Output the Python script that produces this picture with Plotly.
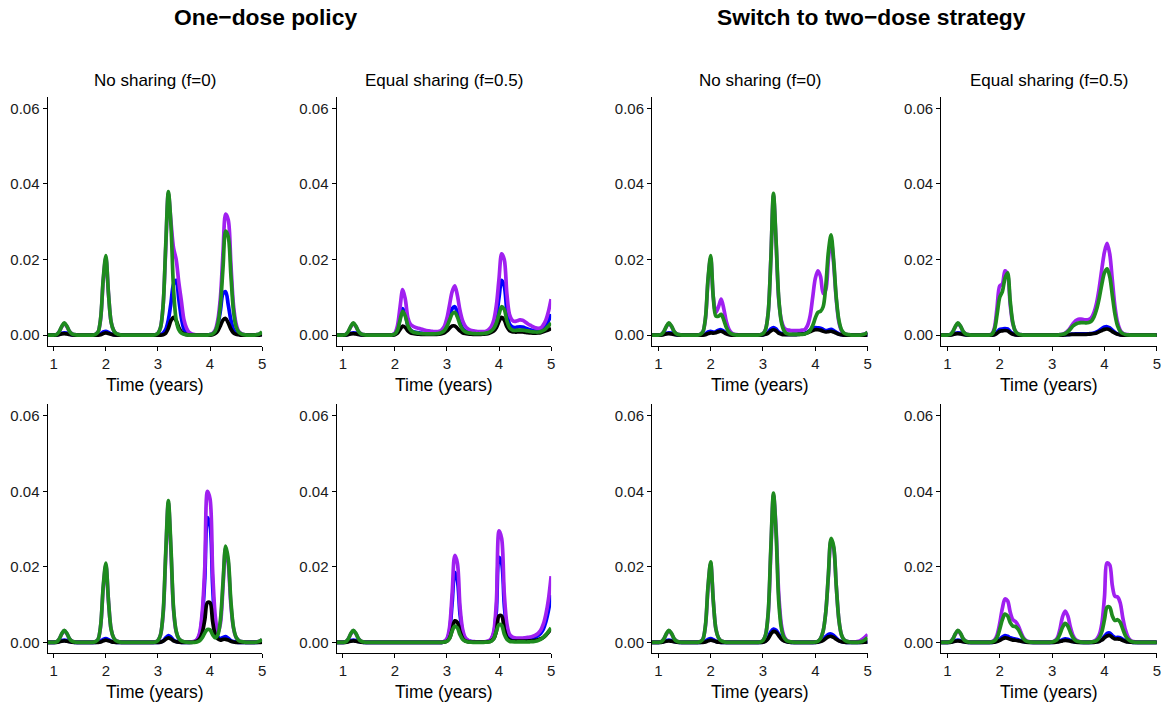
import numpy as np
import plotly.graph_objects as go

# Time grid shared by every series (years)
TIME = np.round(np.arange(0.85, 5.0001, 0.05), 2)

# All series values below are given in thousandths (x 1e-3).
# Rows of 10 values: 0.85-1.30 | 1.35-1.80 | 1.85-2.30 | 2.35-2.80 | 2.85-3.30 |
#                    3.35-3.80 | 3.85-4.30 | 4.35-4.80 | 4.85-5.00

# ---------- One-dose policy, no sharing (f=0), top row ----------
p1_purple = [0, 0, 0, 0, 0.1, 0.8, 2.1, 3.1, 2.3, 1.0,
             0.3, 0.1, 0, 0, 0, 0, 0, 0, 0, 0.2,
             0.8, 4.3, 14.5, 20.5, 11, 3.5, 1.2, 0.4, 0.15, 0,
             0, 0, 0, 0, 0, 0, 0, 0, 0, 0,
             0, 0, 0.1, 0.5, 2, 8, 23, 37.5, 30, 23,
             20, 14, 9, 4, 1.8, 0.7, 0.3, 0.1, 0, 0,
             0, 0, 0, 0.1, 0.4, 1.3, 4, 10, 22, 32,
             30.5, 19, 8, 3, 1, 0.4, 0.15, 0, 0, 0,
             0, 0.1, 0.2, 0.5]
p1_blue = [0, 0, 0, 0, 0.05, 0.2, 0.45, 0.6, 0.5, 0.25,
           0.1, 0, 0, 0, 0, 0, 0, 0, 0, 0,
           0.1, 0.3, 0.8, 1.0, 0.7, 0.3, 0.1, 0, 0, 0,
           0, 0, 0, 0, 0, 0, 0, 0, 0, 0,
           0, 0, 0, 0, 0.1, 0.5, 1.5, 4, 8.5, 13.5,
           14.5, 9.5, 4.5, 1.5, 0.5, 0.2, 0, 0, 0, 0,
           0, 0, 0, 0.1, 0.3, 1, 2.8, 6.5, 11, 11.5,
           8, 4, 1.5, 0.5, 0.2, 0.1, 0, 0, 0, 0,
           0, 0, 0.1, 0.2]
p1_black = [0, 0, 0, 0, 0, 0.1, 0.3, 0.4, 0.3, 0.15,
            0.05, 0, 0, 0, 0, 0, 0, 0, 0, 0,
            0, 0.1, 0.4, 0.6, 0.4, 0.2, 0.05, 0, 0, 0,
            0, 0, 0, 0, 0, 0, 0, 0, 0, 0,
            0, 0, 0, 0, 0, 0.1, 0.5, 1.8, 3.8, 4.7,
            3.8, 2, 0.8, 0.3, 0.1, 0, 0, 0, 0, 0,
            0, 0, 0, 0, 0.1, 0.4, 1.1, 2.5, 4, 4.4,
            3.2, 1.6, 0.6, 0.2, 0.1, 0, 0, 0, 0, 0,
            0, 0, 0, 0.1]
p1_green = [0, 0, 0, 0, 0.1, 0.8, 2.2, 3.2, 2.4, 1.0,
            0.3, 0.1, 0, 0, 0, 0, 0, 0, 0, 0.2,
            0.8, 4.5, 15, 21, 11, 3.5, 1.2, 0.4, 0.15, 0,
            0, 0, 0, 0, 0, 0, 0, 0, 0, 0,
            0, 0, 0.1, 0.5, 2, 8, 24, 38, 29, 12,
            4, 1.4, 0.5, 0.2, 0.1, 0, 0, 0, 0, 0,
            0, 0, 0, 0.1, 0.3, 1, 3, 8, 18, 27.5,
            26, 16, 6.5, 2.2, 0.8, 0.3, 0.1, 0, 0, 0,
            0, 0.1, 0.3, 0.8]

# ---------- One-dose policy, equal sharing (f=0.5), top row ----------
p2_purple = [0, 0, 0, 0, 0.1, 0.8, 2.1, 3.1, 2.3, 1.0,
             0.3, 0.1, 0, 0, 0, 0, 0, 0, 0, 0,
             0, 0, 0.1, 0.5, 2.5, 7.5, 12, 9.5, 4.5, 2.8,
             2.3, 2, 1.8, 1.6, 1.4, 1.2, 1.1, 1, 0.9, 0.9,
             1, 1.4, 2.3, 4.5, 8, 11.5, 13, 10.5, 6.5, 3.8,
             2.4, 1.7, 1.3, 1.1, 1, 0.9, 0.9, 0.9, 1, 1.4,
             2.2, 4, 8, 15, 21.5, 20, 11, 5.5, 4, 3.6,
             3.8, 4, 3.9, 3.5, 3, 2.6, 2.2, 1.9, 1.8, 1.9,
             2.7, 4, 6.3, 9.5]
p2_blue = [0, 0, 0, 0, 0.05, 0.2, 0.45, 0.6, 0.5, 0.25,
           0.1, 0, 0, 0, 0, 0, 0, 0, 0, 0,
           0, 0, 0.05, 0.3, 1.5, 4.5, 7, 5.5, 2.5, 1.3,
           0.9, 0.7, 0.6, 0.5, 0.45, 0.4, 0.35, 0.35, 0.35, 0.4,
           0.5, 0.8, 1.4, 2.8, 5, 7, 7.5, 6, 3.5, 1.8,
           1.1, 0.8, 0.6, 0.5, 0.45, 0.45, 0.45, 0.5, 0.6, 0.9,
           1.5, 2.5, 5, 10, 14.5, 13, 6.5, 3, 2.2, 2,
           2.1, 2.2, 2.1, 1.9, 1.6, 1.4, 1.2, 1.1, 1.1, 1.3,
           1.8, 2.6, 3.8, 5.5]
p2_black = [0, 0, 0, 0, 0, 0.1, 0.3, 0.4, 0.3, 0.15,
            0.05, 0, 0, 0, 0, 0, 0, 0, 0, 0,
            0, 0, 0, 0.1, 0.5, 1.5, 2.4, 2, 1.1, 0.6,
            0.4, 0.3, 0.25, 0.2, 0.2, 0.2, 0.2, 0.2, 0.2, 0.2,
            0.25, 0.35, 0.6, 1.1, 1.8, 2.4, 2.4, 1.8, 1.1, 0.6,
            0.4, 0.3, 0.25, 0.2, 0.2, 0.2, 0.2, 0.25, 0.3, 0.4,
            0.7, 1.1, 2, 3.6, 4.7, 4, 2.2, 1.2, 0.9, 0.8,
            0.8, 0.8, 0.8, 0.7, 0.6, 0.55, 0.5, 0.5, 0.55, 0.65,
            0.85, 1.1, 1.4, 1.8]
p2_green = [0, 0, 0, 0, 0.1, 0.8, 2.2, 3.2, 2.4, 1.0,
            0.3, 0.1, 0, 0, 0, 0, 0, 0, 0, 0,
            0, 0, 0.05, 0.3, 1.3, 4, 6.3, 5, 2.5, 1.3,
            0.8, 0.6, 0.5, 0.4, 0.35, 0.3, 0.3, 0.3, 0.3, 0.35,
            0.45, 0.7, 1.2, 2.3, 4, 5.6, 6, 4.8, 2.8, 1.5,
            0.9, 0.6, 0.5, 0.4, 0.35, 0.35, 0.35, 0.4, 0.5, 0.7,
            1.1, 1.8, 3.2, 5.5, 7.5, 6.8, 3.8, 2, 1.4, 1.2,
            1.3, 1.3, 1.3, 1.2, 1.1, 0.95, 0.85, 0.8, 0.8, 0.9,
            1.2, 1.7, 2.4, 3.2]

# ---------- Switch to two-dose, no sharing (f=0), top row ----------
p3_purple = [0, 0, 0, 0, 0.1, 0.8, 2.1, 3.1, 2.3, 1.0,
             0.3, 0.1, 0, 0, 0, 0, 0, 0, 0, 0.2,
             0.8, 4.3, 14.5, 20.5, 10, 6, 7.5, 9.5, 7, 3.5,
             1.5, 0.6, 0.2, 0.1, 0, 0, 0, 0, 0, 0,
             0, 0, 0.1, 0.4, 1.5, 6, 20, 37, 24.5, 9.5,
             4, 2, 1.4, 1.3, 1.2, 1.2, 1.2, 1.2, 1.3, 1.5,
             2.5, 5, 10, 15, 17, 15.5, 11, 12, 20, 25.5,
             19, 9.5, 3.5, 1.2, 0.4, 0.15, 0, 0, 0, 0,
             0, 0.1, 0.3, 0.7]
p3_blue = [0, 0, 0, 0, 0.05, 0.2, 0.45, 0.6, 0.5, 0.25,
           0.1, 0, 0, 0, 0, 0, 0, 0, 0, 0,
           0.1, 0.3, 0.8, 1.0, 0.8, 0.9, 1.3, 1.4, 1.0, 0.5,
           0.2, 0.1, 0, 0, 0, 0, 0, 0, 0, 0,
           0, 0, 0, 0.1, 0.3, 0.8, 1.6, 2, 1.6, 0.8,
           0.4, 0.2, 0.15, 0.15, 0.15, 0.2, 0.2, 0.25, 0.3, 0.5,
           0.8, 1.3, 1.8, 2, 1.9, 1.8, 1.5, 1.2, 1.3, 1.5,
           1.2, 0.7, 0.3, 0.1, 0, 0, 0, 0, 0, 0,
           0, 0, 0.05, 0.1]
p3_black = [0, 0, 0, 0, 0, 0.1, 0.3, 0.4, 0.3, 0.15,
            0.05, 0, 0, 0, 0, 0, 0, 0, 0, 0,
            0, 0.1, 0.4, 0.6, 0.5, 0.6, 0.9, 1.0, 0.7, 0.3,
            0.1, 0, 0, 0, 0, 0, 0, 0, 0, 0,
            0, 0, 0, 0.05, 0.2, 0.5, 1.1, 1.4, 1.1, 0.5,
            0.25, 0.1, 0.1, 0.1, 0.1, 0.1, 0.15, 0.2, 0.25, 0.35,
            0.6, 0.9, 1.2, 1.4, 1.4, 1.3, 1.0, 0.8, 0.9, 1.0,
            0.8, 0.5, 0.2, 0.1, 0, 0, 0, 0, 0, 0,
            0, 0, 0, 0.05]
p3_green = [0, 0, 0, 0, 0.1, 0.8, 2.2, 3.2, 2.4, 1.0,
            0.3, 0.1, 0, 0, 0, 0, 0, 0, 0, 0.2,
            0.8, 4.5, 15, 21, 10, 5, 5, 5.5, 4, 2,
            0.8, 0.3, 0.1, 0, 0, 0, 0, 0, 0, 0,
            0, 0, 0.1, 0.4, 1.5, 6, 20, 37.5, 25, 10,
            3.5, 1.2, 0.4, 0.2, 0.2, 0.2, 0.2, 0.2, 0.2, 0.3,
            0.6, 1.2, 2.5, 4.5, 6, 6.3, 7.5, 13, 22, 26.5,
            20, 10, 4, 1.4, 0.5, 0.2, 0.1, 0, 0, 0,
            0, 0.1, 0.3, 0.7]

# ---------- Switch to two-dose, equal sharing (f=0.5), top row ----------
p4_purple = [0, 0, 0, 0, 0.1, 0.8, 2.1, 3.1, 2.3, 1.0,
             0.3, 0.1, 0, 0, 0, 0, 0, 0, 0, 0,
             0.3, 2, 7.5, 13, 13.5, 17, 16, 8, 3, 1,
             0.3, 0.1, 0, 0, 0, 0, 0, 0, 0, 0,
             0, 0, 0, 0, 0, 0, 0.1, 0.2, 0.5, 1.1,
             2, 3, 3.8, 4.2, 4.2, 4.1, 4, 4.1, 4.6, 6,
             8.5, 12.5, 17.5, 22, 24.3, 21.5, 14.5, 7.5, 3.3, 1.3,
             0.5, 0.2, 0.1, 0, 0, 0, 0, 0, 0, 0,
             0, 0, 0, 0]
p4_blue = [0, 0, 0, 0, 0.05, 0.2, 0.45, 0.6, 0.5, 0.25,
           0.1, 0, 0, 0, 0, 0, 0, 0, 0, 0,
           0, 0.2, 0.8, 1.5, 1.6, 1.7, 1.6, 0.9, 0.35, 0.1,
           0.05, 0, 0, 0, 0, 0, 0, 0, 0, 0,
           0, 0, 0, 0, 0, 0, 0, 0.05, 0.1, 0.15,
           0.2, 0.25, 0.3, 0.3, 0.3, 0.3, 0.3, 0.35, 0.4, 0.55,
           0.8, 1.2, 1.7, 2.1, 2.2, 1.9, 1.3, 0.7, 0.3, 0.1,
           0.05, 0, 0, 0, 0, 0, 0, 0, 0, 0,
           0, 0, 0, 0]
p4_black = [0, 0, 0, 0, 0, 0.1, 0.3, 0.4, 0.3, 0.15,
            0.05, 0, 0, 0, 0, 0, 0, 0, 0, 0,
            0, 0.1, 0.5, 1.0, 1.1, 1.2, 1.1, 0.6, 0.2, 0.05,
            0, 0, 0, 0, 0, 0, 0, 0, 0, 0,
            0, 0, 0, 0, 0, 0, 0, 0, 0.05, 0.1,
            0.15, 0.2, 0.2, 0.2, 0.2, 0.2, 0.2, 0.25, 0.3, 0.4,
            0.55, 0.9, 1.2, 1.5, 1.6, 1.4, 0.9, 0.5, 0.2, 0.05,
            0, 0, 0, 0, 0, 0, 0, 0, 0, 0,
            0, 0, 0, 0]
p4_green = [0, 0, 0, 0, 0.1, 0.8, 2.2, 3.2, 2.4, 1.0,
            0.3, 0.1, 0, 0, 0, 0, 0, 0, 0, 0,
            0.2, 1.5, 5.5, 10, 11.5, 15, 16.5, 9, 3.3, 1,
            0.3, 0.1, 0, 0, 0, 0, 0, 0, 0, 0,
            0, 0, 0, 0, 0, 0, 0.1, 0.2, 0.4, 0.9,
            1.6, 2.4, 2.9, 3.2, 3.3, 3.3, 3.2, 3.3, 3.7, 4.8,
            6.8, 9.8, 13.5, 16.5, 17.5, 15.5, 10.5, 5.5, 2.4, 1,
            0.4, 0.15, 0.05, 0, 0, 0, 0, 0, 0, 0,
            0, 0, 0, 0]

# ---------- One-dose policy, no sharing (f=0), bottom row ----------
p5_purple = [0, 0, 0, 0, 0.1, 0.8, 2.1, 3.1, 2.3, 1.0,
             0.3, 0.1, 0, 0, 0, 0, 0, 0, 0, 0.2,
             0.8, 4.3, 14.5, 20.5, 11, 3.5, 1.2, 0.4, 0.15, 0,
             0, 0, 0, 0, 0, 0, 0, 0, 0, 0,
             0, 0, 0.1, 0.5, 2, 7.5, 23, 37, 24, 8.5,
             2.8, 1, 0.4, 0.15, 0.1, 0.1, 0.15, 0.3, 0.8, 2.5,
             8, 20, 40, 38, 19, 7, 2.5, 5, 15, 25,
             21, 10, 3.8, 1.3, 0.5, 0.2, 0.1, 0, 0, 0,
             0, 0.1, 0.3, 0.7]
p5_blue = [0, 0, 0, 0, 0.05, 0.2, 0.45, 0.6, 0.5, 0.25,
           0.1, 0, 0, 0, 0, 0, 0, 0, 0, 0,
           0.1, 0.3, 0.8, 1.0, 0.7, 0.3, 0.1, 0, 0, 0,
           0, 0, 0, 0, 0, 0, 0, 0, 0, 0,
           0, 0, 0, 0, 0.1, 0.4, 1.2, 1.8, 1.4, 0.6,
           0.25, 0.1, 0, 0, 0, 0, 0.05, 0.15, 0.6, 2,
           6.5, 17, 33, 31, 15, 4.5, 1.5, 1, 1.3, 1.5,
           1.1, 0.5, 0.2, 0.1, 0, 0, 0, 0, 0, 0,
           0, 0, 0.05, 0.1]
p5_black = [0, 0, 0, 0, 0, 0.1, 0.3, 0.4, 0.3, 0.15,
            0.05, 0, 0, 0, 0, 0, 0, 0, 0, 0,
            0, 0.1, 0.4, 0.6, 0.4, 0.2, 0.05, 0, 0, 0,
            0, 0, 0, 0, 0, 0, 0, 0, 0, 0,
            0, 0, 0, 0, 0.05, 0.3, 0.8, 1.2, 0.9, 0.4,
            0.15, 0.05, 0, 0, 0, 0, 0, 0.1, 0.3, 0.9,
            2.5, 6, 10.5, 10.5, 5.5, 2, 0.9, 0.6, 0.8, 0.8,
            0.6, 0.3, 0.1, 0, 0, 0, 0, 0, 0, 0,
            0, 0, 0, 0.05]
p5_green = [0, 0, 0, 0, 0.1, 0.8, 2.2, 3.2, 2.4, 1.0,
            0.3, 0.1, 0, 0, 0, 0, 0, 0, 0, 0.2,
            0.8, 4.5, 15, 21, 11, 3.5, 1.2, 0.4, 0.15, 0,
            0, 0, 0, 0, 0, 0, 0, 0, 0, 0,
            0, 0, 0.1, 0.5, 2, 8, 24, 37.5, 25, 9,
            3, 1, 0.4, 0.15, 0.05, 0, 0, 0, 0.1, 0.4,
            1.2, 2.5, 3.4, 3.3, 2, 1.2, 2, 6, 16, 25.5,
            22, 11, 4, 1.4, 0.5, 0.2, 0.1, 0, 0, 0,
            0, 0.1, 0.3, 0.8]

# ---------- One-dose policy, equal sharing (f=0.5), bottom row ----------
p6_purple = [0, 0, 0, 0, 0.1, 0.8, 2.1, 3.1, 2.3, 1.0,
             0.3, 0.1, 0, 0, 0, 0, 0, 0, 0, 0,
             0, 0, 0, 0, 0, 0, 0, 0, 0, 0,
             0, 0, 0, 0, 0, 0, 0, 0, 0, 0,
             0, 0, 0.3, 1, 4, 13, 23, 21, 9.5, 3.5,
             1.3, 0.6, 0.3, 0.2, 0.15, 0.1, 0.1, 0.15, 0.2, 0.4,
             1, 3, 11, 29.5, 27.5, 13, 5, 2.2, 1.5, 1.2,
             1.1, 1.1, 1.1, 1.2, 1.3, 1.4, 1.6, 1.9, 2.4, 3.2,
             4.8, 7.5, 11.5, 17.5]
p6_blue = [0, 0, 0, 0, 0.05, 0.2, 0.45, 0.6, 0.5, 0.25,
           0.1, 0, 0, 0, 0, 0, 0, 0, 0, 0,
           0, 0, 0, 0, 0, 0, 0, 0, 0, 0,
           0, 0, 0, 0, 0, 0, 0, 0, 0, 0,
           0, 0, 0.2, 0.8, 3, 10.5, 18.5, 16.5, 7.5, 2.8,
           1, 0.5, 0.25, 0.15, 0.1, 0.1, 0.1, 0.1, 0.15, 0.3,
           0.8, 2.4, 8.5, 22.5, 21, 10, 3.5, 1.6, 1.1, 0.9,
           0.85, 0.85, 0.85, 0.9, 1, 1.1, 1.2, 1.4, 1.8, 2.4,
           3.5, 5.5, 8.5, 12.5]
p6_black = [0, 0, 0, 0, 0, 0.1, 0.3, 0.4, 0.3, 0.15,
            0.05, 0, 0, 0, 0, 0, 0, 0, 0, 0,
            0, 0, 0, 0, 0, 0, 0, 0, 0, 0,
            0, 0, 0, 0, 0, 0, 0, 0, 0, 0,
            0, 0, 0.1, 0.3, 1.1, 3.3, 5.7, 5.3, 2.8, 1.1,
            0.4, 0.2, 0.1, 0.05, 0.05, 0.05, 0.05, 0.05, 0.1, 0.15,
            0.4, 1, 3, 7, 7, 3.5, 1.3, 0.6, 0.35, 0.3,
            0.3, 0.3, 0.3, 0.3, 0.35, 0.4, 0.45, 0.55, 0.7, 0.95,
            1.3, 1.9, 2.7, 3.6]
p6_green = [0, 0, 0, 0, 0.1, 0.8, 2.2, 3.2, 2.4, 1.0,
            0.3, 0.1, 0, 0, 0, 0, 0, 0, 0, 0,
            0, 0, 0, 0, 0, 0, 0, 0, 0, 0,
            0, 0, 0, 0, 0, 0, 0, 0, 0, 0,
            0, 0, 0.1, 0.3, 1, 3, 4.3, 3.8, 2, 0.8,
            0.3, 0.1, 0.05, 0, 0, 0, 0, 0, 0.05, 0.1,
            0.3, 1, 3, 4.7, 4.5, 2.2, 0.8, 0.3, 0.15, 0.1,
            0.1, 0.1, 0.1, 0.1, 0.1, 0.15, 0.2, 0.3, 0.5, 0.8,
            1.3, 2, 2.9, 3.8]

# ---------- Switch to two-dose, no sharing (f=0), bottom row ----------
p7_purple = [0, 0, 0, 0, 0.1, 0.8, 2.1, 3.1, 2.3, 1.0,
             0.3, 0.1, 0, 0, 0, 0, 0, 0, 0, 0.2,
             0.8, 4.3, 14.5, 21, 11, 3.5, 1.2, 0.4, 0.15, 0,
             0, 0, 0, 0, 0, 0, 0, 0, 0, 0,
             0, 0, 0.1, 0.5, 2, 7.5, 24, 39, 30, 13,
             4.8, 1.7, 0.6, 0.25, 0.1, 0, 0, 0, 0, 0,
             0, 0, 0, 0.1, 0.3, 1, 3, 8, 17.5, 27,
             25, 15, 6, 2, 0.7, 0.3, 0.15, 0.1, 0.1, 0.2,
             0.4, 0.8, 1.4, 2.1]
p7_blue = [0, 0, 0, 0, 0.05, 0.2, 0.45, 0.6, 0.5, 0.25,
           0.1, 0, 0, 0, 0, 0, 0, 0, 0, 0,
           0.1, 0.3, 0.8, 1.0, 0.7, 0.3, 0.1, 0, 0, 0,
           0, 0, 0, 0, 0, 0, 0, 0, 0, 0,
           0, 0, 0, 0.1, 0.4, 1.3, 2.8, 3.5, 3.2, 2.2,
           1.1, 0.5, 0.2, 0.1, 0, 0, 0, 0, 0, 0,
           0, 0, 0, 0, 0.1, 0.3, 0.8, 1.5, 2.1, 2.2,
           1.8, 1.1, 0.5, 0.2, 0.1, 0, 0, 0, 0, 0,
           0, 0.05, 0.1, 0.2]
p7_black = [0, 0, 0, 0, 0, 0.1, 0.3, 0.4, 0.3, 0.15,
            0.05, 0, 0, 0, 0, 0, 0, 0, 0, 0,
            0, 0.1, 0.4, 0.6, 0.4, 0.2, 0.05, 0, 0, 0,
            0, 0, 0, 0, 0, 0, 0, 0, 0, 0,
            0, 0, 0, 0.05, 0.3, 1, 2.2, 2.9, 2.7, 1.8,
            0.9, 0.4, 0.15, 0.05, 0, 0, 0, 0, 0, 0,
            0, 0, 0, 0, 0.05, 0.2, 0.5, 1, 1.5, 1.6,
            1.3, 0.8, 0.4, 0.15, 0.05, 0, 0, 0, 0, 0,
            0, 0, 0.05, 0.1]
p7_green = [0, 0, 0, 0, 0.1, 0.8, 2.2, 3.2, 2.4, 1.0,
            0.3, 0.1, 0, 0, 0, 0, 0, 0, 0, 0.2,
            0.8, 4.5, 15, 21.3, 11, 3.5, 1.2, 0.4, 0.15, 0,
            0, 0, 0, 0, 0, 0, 0, 0, 0, 0,
            0, 0, 0.1, 0.5, 2, 8, 25, 39.5, 29, 11,
            3.8, 1.3, 0.5, 0.2, 0.1, 0, 0, 0, 0, 0,
            0, 0, 0, 0.1, 0.3, 1, 3, 8, 18, 27.5,
            25.5, 15, 6, 2, 0.7, 0.3, 0.1, 0, 0, 0,
            0.1, 0.3, 0.7, 1.2]

# ---------- Switch to two-dose, equal sharing (f=0.5), bottom row ----------
p8_purple = [0, 0, 0, 0, 0.1, 0.8, 2.1, 3.1, 2.3, 1.0,
             0.3, 0.1, 0, 0, 0, 0, 0, 0, 0, 0,
             0.2, 0.6, 2, 5, 9, 11.5, 11, 8, 6, 5.5,
             4.5, 2.8, 1.3, 0.5, 0.2, 0.1, 0, 0, 0, 0,
             0, 0, 0, 0.1, 0.4, 1.2, 3.5, 6.8, 8.3, 7,
             4, 1.8, 0.7, 0.3, 0.1, 0, 0, 0, 0.1, 0.3,
             0.8, 2, 5, 12, 21, 20.5, 15, 12.2, 12, 10.5,
             6.5, 3.3, 1.4, 0.5, 0.2, 0.1, 0, 0, 0, 0,
             0, 0, 0, 0]
p8_blue = [0, 0, 0, 0, 0.05, 0.2, 0.45, 0.6, 0.5, 0.25,
           0.1, 0, 0, 0, 0, 0, 0, 0, 0, 0,
           0, 0.1, 0.3, 0.8, 1.4, 1.8, 1.6, 1.2, 1, 0.9,
           0.7, 0.45, 0.25, 0.1, 0.05, 0, 0, 0, 0, 0,
           0, 0, 0, 0, 0.05, 0.15, 0.4, 0.7, 0.9, 0.8,
           0.5, 0.25, 0.1, 0.05, 0, 0, 0, 0, 0, 0.05,
           0.15, 0.35, 0.8, 1.6, 2.4, 2.5, 1.8, 1.3, 1.3, 1.2,
           0.8, 0.4, 0.2, 0.1, 0, 0, 0, 0, 0, 0,
           0, 0, 0, 0]
p8_black = [0, 0, 0, 0, 0, 0.1, 0.3, 0.4, 0.3, 0.15,
            0.05, 0, 0, 0, 0, 0, 0, 0, 0, 0,
            0, 0.05, 0.2, 0.5, 0.9, 1.2, 1.1, 0.8, 0.6, 0.55,
            0.45, 0.3, 0.15, 0.05, 0, 0, 0, 0, 0, 0,
            0, 0, 0, 0, 0, 0.1, 0.25, 0.4, 0.5, 0.45,
            0.3, 0.15, 0.05, 0, 0, 0, 0, 0, 0, 0,
            0.1, 0.25, 0.6, 1.2, 1.7, 1.8, 1.3, 0.9, 0.9, 0.8,
            0.5, 0.25, 0.1, 0.05, 0, 0, 0, 0, 0, 0,
            0, 0, 0, 0]
p8_green = [0, 0, 0, 0, 0.1, 0.8, 2.2, 3.2, 2.4, 1.0,
            0.3, 0.1, 0, 0, 0, 0, 0, 0, 0, 0,
            0.1, 0.4, 1.3, 3.5, 6, 7.5, 7, 5.2, 4.3, 4.2,
            3.5, 2.2, 1, 0.4, 0.15, 0.05, 0, 0, 0, 0,
            0, 0, 0, 0.1, 0.3, 0.8, 2.2, 4, 5, 4.3,
            2.6, 1.2, 0.5, 0.2, 0.05, 0, 0, 0, 0.05, 0.2,
            0.5, 1.2, 2.8, 6, 9.3, 9.3, 7, 5.8, 6, 5.3,
            3.5, 1.8, 0.8, 0.3, 0.1, 0, 0, 0, 0, 0,
            0, 0, 0, 0]

SCALE = 1e-3
# drawing order: blue underneath, then purple, black, green on top
COLORS = {"blue": "#0000FF", "purple": "#A020F0", "black": "#000000", "green": "#1E8B1E"}

PANELS = [
    dict(blue=p1_blue, purple=p1_purple, black=p1_black, green=p1_green),
    dict(blue=p2_blue, purple=p2_purple, black=p2_black, green=p2_green),
    dict(blue=p3_blue, purple=p3_purple, black=p3_black, green=p3_green),
    dict(blue=p4_blue, purple=p4_purple, black=p4_black, green=p4_green),
    dict(blue=p5_blue, purple=p5_purple, black=p5_black, green=p5_green),
    dict(blue=p6_blue, purple=p6_purple, black=p6_black, green=p6_green),
    dict(blue=p7_blue, purple=p7_purple, black=p7_black, green=p7_green),
    dict(blue=p8_blue, purple=p8_purple, black=p8_black, green=p8_green),
]

W, H = 1175, 706
# plot-area pixel boxes
COL_X = [(47.7, 263.0), (337.7, 553.0), (654.3, 870.6), (944.3, 1160.8)]
ROW_Y = [(96.7, 346.0), (404.0, 653.3)]

FONT = "Liberation Sans, Arial, sans-serif"
X_RANGE = [0.88, 5.0]
Y_RANGE = [-0.0029, 0.0631]

fig = go.Figure()
layout = dict(
    width=W, height=H,
    margin=dict(l=0, r=0, t=0, b=0),
    paper_bgcolor="white", plot_bgcolor="white",
    showlegend=False,
    font=dict(family=FONT, color="black"),
)

for i, series in enumerate(PANELS):
    r, c = divmod(i, 4)
    n = i + 1
    xa = "xaxis" if n == 1 else f"xaxis{n}"
    ya = "yaxis" if n == 1 else f"yaxis{n}"
    xref = "x" if n == 1 else f"x{n}"
    yref = "y" if n == 1 else f"y{n}"
    x0, x1 = COL_X[c]
    y0, y1 = ROW_Y[r]
    layout[xa] = dict(
        domain=[x0 / W, x1 / W], range=X_RANGE, anchor=yref,
        tickvals=[1, 2, 3, 4, 5], ticktext=["1", "2", "3", "4", "5"],
        ticks="outside", ticklen=4, tickwidth=1, tickcolor="black",
        showline=True, linecolor="black", linewidth=1,
        showgrid=False, zeroline=False,
        tickfont=dict(family=FONT, size=15, color="#1a1a1a"),
    )
    layout[ya] = dict(
        domain=[1 - y1 / H, 1 - y0 / H], range=Y_RANGE, anchor=xref,
        tickvals=[0, 0.02, 0.04, 0.06], tickformat=".2f",
        ticks="outside", ticklen=4, tickwidth=1, tickcolor="black",
        showline=True, linecolor="black", linewidth=1,
        showgrid=False, zeroline=False,
        tickfont=dict(family=FONT, size=15, color="#1a1a1a"),
    )
    for name in ["blue", "purple", "black", "green"]:
        fig.add_trace(go.Scatter(
            x=TIME, y=np.array(series[name]) * SCALE,
            mode="lines", xaxis=xref, yaxis=yref, name=name,
            line=dict(color=COLORS[name], width=3.7, shape="spline", smoothing=0.9),
            hoverinfo="skip",
        ))

annotations = []
# group titles
for text, cx in [("One\u2212dose policy", 266.0), ("Switch to two\u2212dose strategy", 874.0)]:
    annotations.append(dict(
        text=f"<b>{text}</b>", x=cx / W, y=1 - 17 / H, xref="paper", yref="paper",
        xanchor="center", yanchor="middle", showarrow=False,
        font=dict(family=FONT, size=22.8, color="black"),
    ))
# panel titles (top row)
for c, text in enumerate(["No sharing (f=0)", "Equal sharing (f=0.5)",
                          "No sharing (f=0)", "Equal sharing (f=0.5)"]):
    x0, x1 = COL_X[c]
    annotations.append(dict(
        text=text, x=(x0 + x1) / 2 / W, y=1 - 80 / H, xref="paper", yref="paper",
        xanchor="center", yanchor="middle", showarrow=False,
        font=dict(family=FONT, size=17, color="black"),
    ))
# x-axis titles
for r, ty in enumerate([385.0, 691.7]):
    for c in range(4):
        x0, x1 = COL_X[c]
        annotations.append(dict(
            text="Time (years)", x=(x0 + x1) / 2 / W, y=1 - ty / H,
            xref="paper", yref="paper", xanchor="center", yanchor="middle",
            showarrow=False, font=dict(family=FONT, size=17.5, color="black"),
        ))

layout["annotations"] = annotations
fig.update_layout(**layout)
fig.write_html("out.html")
